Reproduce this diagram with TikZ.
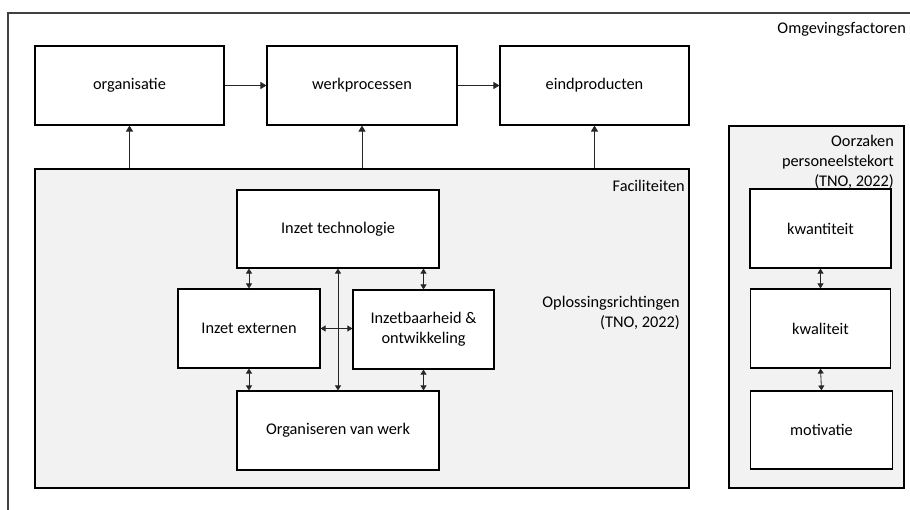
\documentclass[tikz,border=0pt]{standalone}
\usepackage{fontspec}
\setmainfont{Carlito}
\usetikzlibrary{arrows.meta}
\definecolor{panel}{HTML}{F2F2F2}
\definecolor{wire}{HTML}{262626}
\begin{document}
\begin{tikzpicture}[x=1pt,y=-1pt,
  font=\fontsize{16.3pt}{20pt}\selectfont,
  box/.style={draw=black,line width=1.1pt,fill=white,inner sep=0pt,
    minimum width=#1,minimum height=79pt,align=center},
  box/.default=190pt,
  panelbox/.style={draw=black,line width=1.1pt,fill=panel,inner sep=0pt},
  conn/.style={draw=wire,line width=0.8pt,-{Triangle[length=6pt,width=7pt]}},
  biconn/.style={draw=wire,line width=0.8pt,
    {Triangle[length=5pt,width=6pt]}-{Triangle[length=5pt,width=6pt]}},
  lbl/.style={inner sep=0pt,align=right}]
\useasboundingbox (0,0) rectangle (910,509);

% environment frame (open to the right and bottom)
\draw[line width=1.3pt,draw=black!75] (914,13) -- (8,13) -- (8,513);
\node[lbl,anchor=east] (omg) at (906,29) {Omgevingsfactoren};

% main chain
\node[box=189pt] (orga) at (129.5,85.5) {organisatie};
\node[box=190pt] (werk) at (362,85.5) {werkprocessen};
\node[box=189pt] (eind) at (594.5,85.5) {eindproducten};
\draw[conn] (orga) -- (werk);
\draw[conn] (werk) -- (eind);

% facilities panel
\node[panelbox,minimum width=654pt,minimum height=319pt] (fac) at (362,328.5) {};
\node[lbl,anchor=east] (facl) at (685,186) {Faciliteiten};
\draw[conn] (fac.north -| orga.south) -- (orga.south);
\draw[conn] (fac.north -| werk.south) -- (werk.south);
\draw[conn] (fac.north -| eind.south) -- (eind.south);

\node[lbl,anchor=east] (opl) at (680,313) {Oplossingsrichtingen\\(TNO, 2022)};

\node[box=202pt,minimum height=78pt] (tech) at (338,229) {Inzet technologie};
\node[box=142pt] (ext) at (249,328.5) {Inzet externen};
\node[box=141pt] (inzb) at (423.5,329.5) {Inzetbaarheid \&\\ontwikkeling};
\node[box=202pt] (orgw) at (338,430.5) {Organiseren van werk};

\draw[biconn] (tech.south -| ext.north) -- (ext.north);
\draw[biconn] (tech.south -| inzb.north) -- (inzb.north);
\draw[biconn] (ext.south) -- (orgw.north -| ext.south);
\draw[biconn] (inzb.south) -- (orgw.north -| inzb.south);
\draw[biconn] (ext.east) -- (inzb.west |- ext.east);
\draw[biconn] (tech.south) -- (orgw.north);

% causes of staff shortage
\node[panelbox,minimum width=175pt,minimum height=362pt] (oorz) at (816.5,307) {};
\node[lbl,anchor=east] (oorzl) at (894,162) {Oorzaken\\personeelstekort\\(TNO, 2022)};
\node[box=141pt] (kwan) at (820.5,228.5) {kwantiteit};
\node[box=140pt] (kwal) at (820.5,328.5) {kwaliteit};
\node[box=142pt,minimum height=78pt] (moti) at (821.5,430) {motivatie};
\draw[biconn] (kwan.south) -- (kwal.north);
\draw[biconn] (kwal.south) -- (moti.north);
\end{tikzpicture}
\end{document}
